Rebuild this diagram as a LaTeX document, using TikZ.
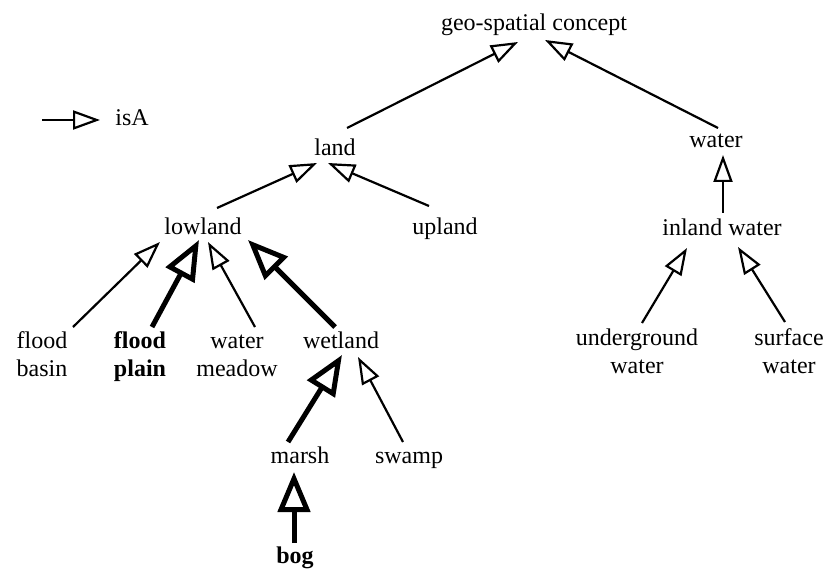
\documentclass[tikz,border=0pt]{standalone}
\usepackage{fontspec}
\setmainfont{Liberation Serif}
\usetikzlibrary{arrows.meta}
\begin{document}
\begin{tikzpicture}[x=1pt,y=-1pt,
  lbl/.style={inner sep=0pt, anchor=base, align=center, font=\fontsize{24}{28}\selectfont},
  isa/.style={line width=2.2pt, -{Triangle[open,length=27pt,width=19pt]}},
  isabold/.style={line width=5pt, -{Triangle[open,length=40pt,width=32pt]}}]
\useasboundingbox (0,0) rectangle (826,569);

% concepts (the base of a two-line label is the baseline of its last line)
\node[lbl] (geo)     at (534,31)  {geo-spatial concept};
\node[lbl] (land)    at (335,156) {land};
\node[lbl] (water)   at (716,148) {water};
\node[lbl] (lowland) at (203,234) {lowland};
\node[lbl] (upland)  at (445,234) {upland};
\node[lbl] (inland)  at (722,235) {inland water};
\node[lbl] (fbasin)  at (42,376)  {flood\\basin};
\node[lbl,font=\fontsize{24}{28}\selectfont\bfseries] (fplain) at (140,376) {flood\\plain};
\node[lbl] (wmeadow) at (237,376) {water\\meadow};
\node[lbl] (wetland) at (341,348) {wetland};
\node[lbl] (ugw)     at (637,373) {underground\\water};
\node[lbl] (sfw)     at (789,373) {surface\\water};
\node[lbl] (marsh)   at (300,463) {marsh};
\node[lbl] (swamp)   at (409,463) {swamp};
\node[lbl,font=\fontsize{24}{28}\selectfont\bfseries] (bog) at (295,563) {bog};

% legend
\node[lbl] (legendtxt) at (132,126) {isA};
\coordinate (legstart) at (42,120);
\draw[isa] (legstart) -- ([shift={(-32,-6)}]legendtxt.base);

% isA relations
\draw[isa] ([shift={(12,-28)}]land.base)  -- ([shift={(-16,11)}]geo.base);
\draw[isa] ([shift={(2,-20)}]water.base)  -- ([shift={(11,9)}]geo.base);
\draw[isa] ([shift={(14,-26)}]lowland.base) -- ([shift={(-18,7)}]land.base);
\draw[isa] ([shift={(-16,-28)}]upland.base) -- ([shift={(-7,7)}]land.base);
\draw[isa] ([shift={(1,-22)}]inland.base) -- ([shift={(7,7)}]water.base);
\draw[isa] ([shift={(5,-50)}]ugw.base)    -- ([shift={(-35,13)}]inland.base);
\draw[isa] ([shift={(-4,-51)}]sfw.base)   -- ([shift={(16,12)}]inland.base);
\draw[isa] ([shift={(31,-49)}]fbasin.base) -- ([shift={(-43,8)}]lowland.base);
\draw[isabold] ([shift={(12,-49)}]fplain.base) -- ([shift={(-4,6)}]lowland.base);
\draw[isa] ([shift={(18,-49)}]wmeadow.base) -- ([shift={(5,8)}]lowland.base);
\draw[isabold] ([shift={(-6,-21)}]wetland.base) -- ([shift={(45,6)}]lowland.base);
\draw[isabold] ([shift={(-12,-21)}]marsh.base) -- ([shift={(1,7)}]wetland.base);
\draw[isa] ([shift={(-6,-21)}]swamp.base) -- ([shift={(17,9)}]wetland.base);
\draw[isabold] ([shift={(-1,-20)}]bog.base) -- ([shift={(-6,9)}]marsh.base);
\end{tikzpicture}
\end{document}
